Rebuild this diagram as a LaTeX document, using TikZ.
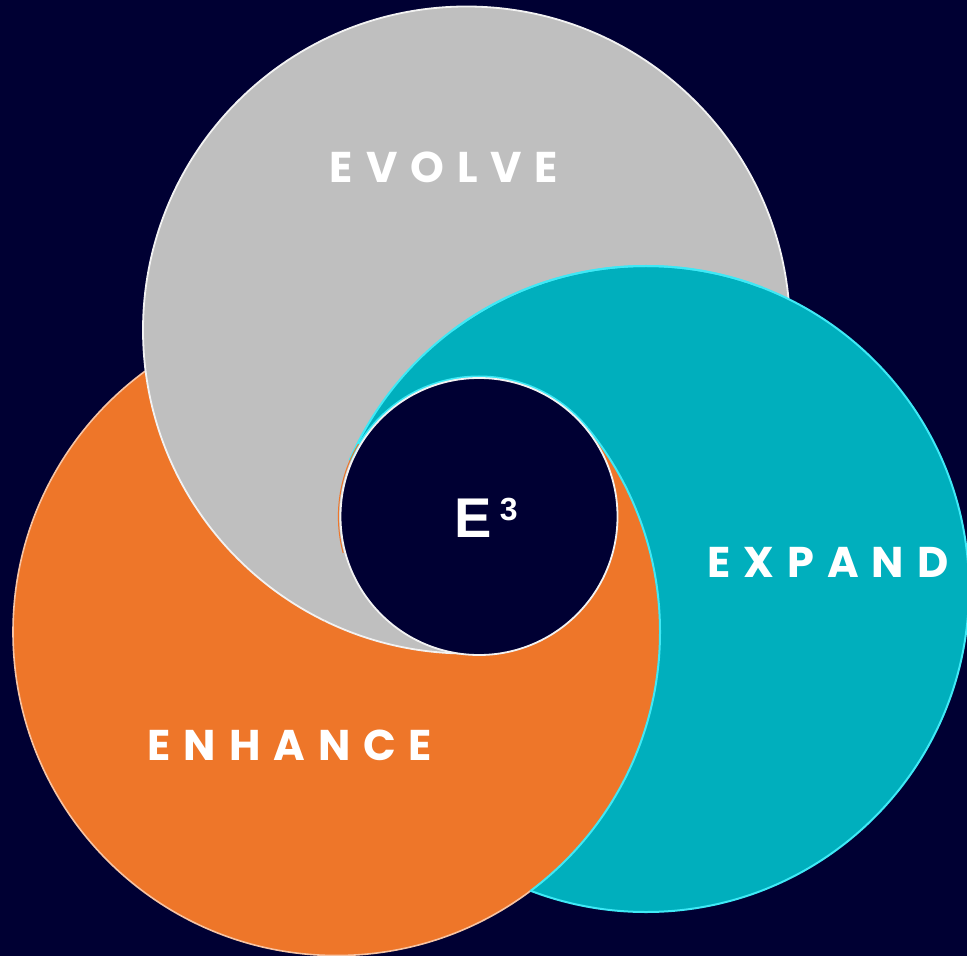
\documentclass[tikz,border=0pt]{standalone}
\usepackage{fontspec}
\usetikzlibrary{calc}
\newfontfamily\ringfont{Poppins Bold}[LetterSpace=30]
\newfontfamily\corefont{Liberation Sans Bold}
\definecolor{navy}{HTML}{000033}
\definecolor{grayfill}{HTML}{BFBFBF}
\definecolor{tealfill}{HTML}{00AFBD}
\definecolor{orangefill}{HTML}{EE7629}
\definecolor{rimwhite}{HTML}{F2F2F2}
\definecolor{rimcyan}{HTML}{3FE9F6}
\definecolor{rimpeach}{HTML}{F7C4A4}
\begin{document}
\begin{tikzpicture}[x=0.5pt,y=-0.5pt,
  ring text/.style={text=white, inner sep=0pt, anchor=base,
    font=\ringfont\fontsize{21.5}{22}\selectfont},
  core text/.style={text=white, inner sep=0pt, anchor=base,
    font=\corefont\fontsize{28}{28}\selectfont},
  white rim/.style={draw=rimwhite, line width=0.9pt},
  cyan rim/.style={draw=rimcyan, line width=1pt},
  peach rim/.style={draw=rimpeach, line width=0.8pt}]
\useasboundingbox (0,0) rectangle (967,956);
\fill[navy] (0,0) rectangle (967,956);

% centres of the three rings and of the hub
\coordinate (g) at (466.5,330);
\coordinate (t) at (646,589);
\coordinate (o) at (336.5,632);
\coordinate (s) at (479,516.5);

% base fills: orange, then gray, then teal
\fill[orangefill] (o) circle (323.5);
\fill[grayfill] (g) circle (323.5);
\fill[tealfill] (t) circle (323);

% orange lies over teal outside the gray ring
\begin{scope}
  \clip (o) circle (323.5);
  \fill[orangefill, even odd rule] (-20,-20) rectangle (990,980) (g) circle (323.5);
\end{scope}

% the common core is shared out in three wedges around the hub
\begin{scope}
  \clip (o) circle (323.5);
  \fill[orangefill] (s) -- ($(s)+(-39:2000)$) -- ($(s)+(24:2000)$) -- ($(s)+(86:2000)$) -- cycle;
\end{scope}
\begin{scope}
  \clip (g) circle (323.5);
  \fill[grayfill] (s) -- ($(s)+(86:2000)$) -- ($(s)+(145:2000)$) -- ($(s)+(203.5:2000)$) -- cycle;
\end{scope}

% peach rim of the orange ring
\begin{scope}[even odd rule]
  \clip (-20,-20) rectangle (990,980) (g) circle (323.5);
  \clip (-20,-20) rectangle (990,980) (t) circle (323);
  \draw[peach rim] (o) circle (323.5);
\end{scope}

% white rim of the gray ring
\begin{scope}[even odd rule]
  \clip (-20,-20) rectangle (990,980) (t) circle (323);
  \draw[white rim] (g) circle (323.5);
\end{scope}
\begin{scope}
  \clip (t) circle (323);
  \clip (s) -- ($(s)+(86:2000)$) -- ($(s)+(145:2000)$) -- ($(s)+(203.5:2000)$) -- cycle;
  \draw[white rim] (g) circle (323.5);
\end{scope}

% cyan rim of the teal ring
\begin{scope}[even odd rule]
  \clip (-20,-20) rectangle (990,980) (o) circle (323.5);
  \draw[cyan rim] (t) circle (323);
\end{scope}
\begin{scope}
  \clip (s) -- ($(s)+(203.5:2000)$) -- ($(s)+(262:2000)$) -- ($(s)+(321:2000)$) -- cycle;
  \draw[cyan rim] (t) circle (323);
  \draw[cyan rim] (s) circle (140);
\end{scope}
\begin{scope}
  \clip (t) circle (323);
  \clip (s) -- ($(s)+(-39:2000)$) -- ($(s)+(24:2000)$) -- ($(s)+(86:2000)$) -- cycle;
  \draw[cyan rim] (o) circle (323.5);
\end{scope}

% thin orange trace along the left of the hub
\begin{scope}
  \clip (s) -- ($(s)+(165:2000)$) -- ($(s)+(188:2000)$) -- ($(s)+(211:2000)$) -- cycle;
  \draw[orangefill, line width=0.5pt] (s) circle (140.6);
\end{scope}

% hub
\draw[fill=navy, draw=rimwhite, line width=0.9pt] (s) circle (138.5);

% texts
\node[core text] (core) at (486,537.3) {E\kern4pt\raisebox{8.4pt}{\fontsize{16}{16}\selectfont 3}};
\node[ring text] (evolve) at (444,182.7) {EVOLVE};
\node[ring text] (expand) at (828,577.5) {EXPAND};
\node[ring text] (enhance) at (290,760) {ENHANCE};
\end{tikzpicture}
\end{document}
